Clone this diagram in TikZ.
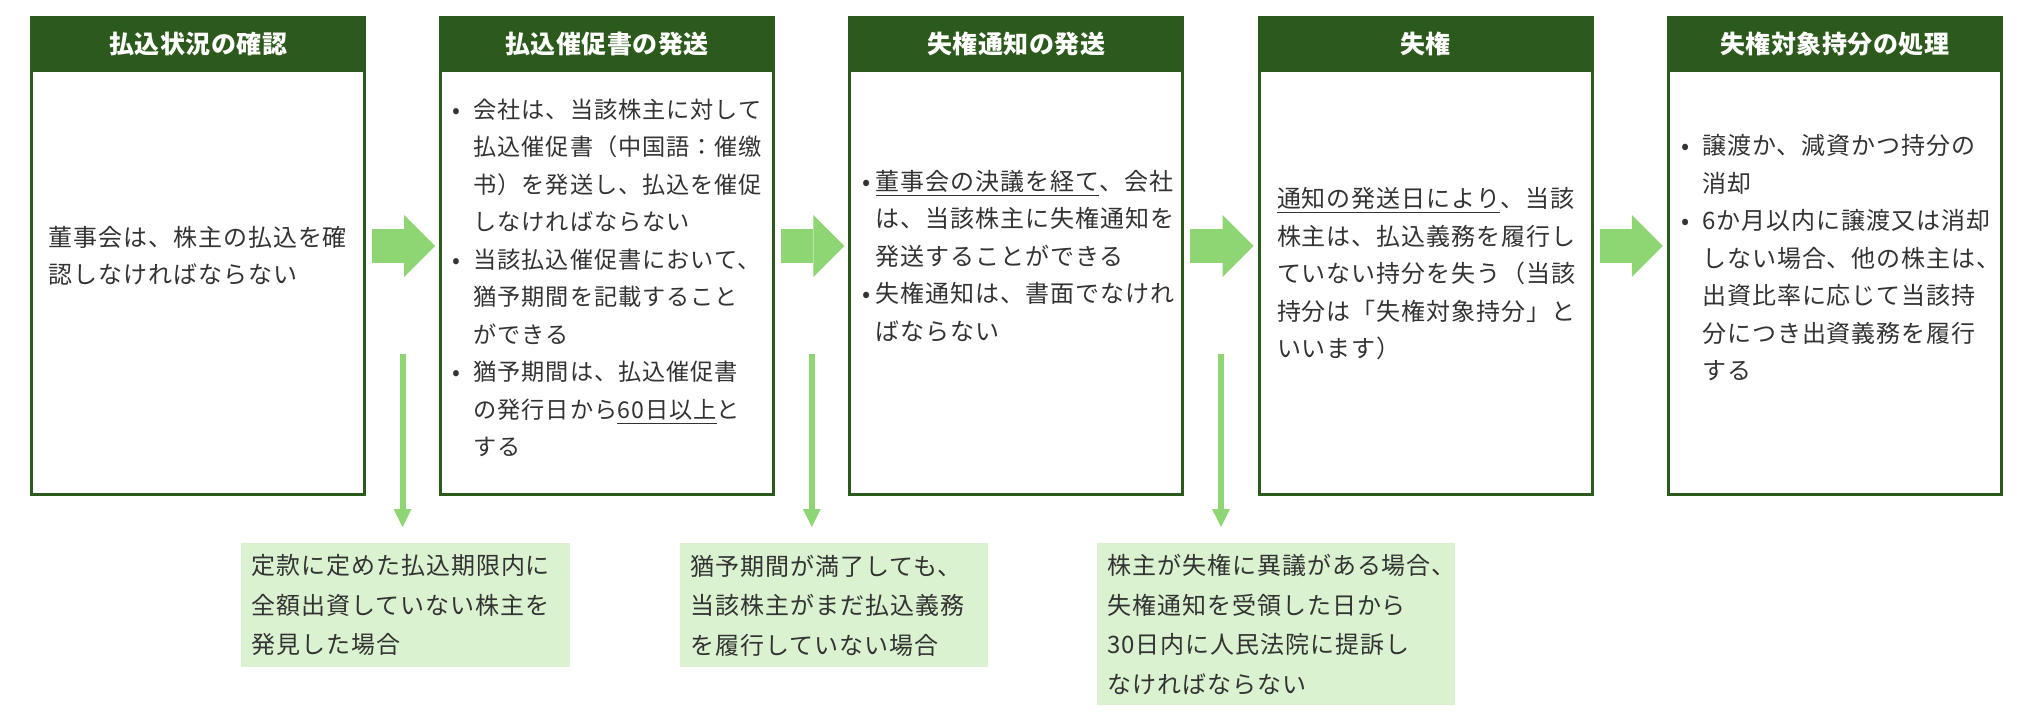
\documentclass[tikz,border=0pt]{standalone}
\usepackage{fontspec}
\setmainfont{Noto Sans CJK JP}[LetterSpace=4]
\newfontfamily\headfont{Noto Sans CJK JP}[LetterSpace=2]
\usepackage{tikz}
\usetikzlibrary{arrows.meta,positioning,calc}

\definecolor{darkleaf}{HTML}{2C5A1C}
\definecolor{arrowleaf}{HTML}{8DD673}
\definecolor{noteleaf}{HTML}{DAF2D0}

\newcommand{\bul}[1][10.5pt]{\makebox[#1][l]{•}}
\newcommand{\ind}[1][10.5pt]{\hspace*{#1}}

\begin{document}
\begin{tikzpicture}[
  x=0.5pt, y=-0.5pt,
  stagebox/.style={
    draw=darkleaf,
    line width=1.5pt,
    minimum width=166.5pt,
    minimum height=238.5pt,
    inner sep=0pt
  },
  stagehead/.style={
    fill=darkleaf,
    text=white,
    font=\headfont\bfseries\fontsize{12.5}{15}\selectfont,
    minimum width=168pt,
    minimum height=28pt,
    inner sep=0pt,
    outer sep=0pt,
    anchor=north
  },
  stagetext/.style={anchor=west, inner sep=0pt, text width=160pt, align=left, text=black!80, font=\fontsize{12}{18.75}\selectfont},
  notebox/.style={fill=noteleaf, anchor=north west, inner xsep=5pt, inner ysep=0pt, align=left, text=black!80, font=\fontsize{12}{19.75}\selectfont},
  flow/.style={-{Triangle[length=15.5pt, width=31pt, line width=0pt]}, line width=17pt, draw=arrowleaf, shorten <=3pt, shorten >=2pt},
  drop/.style={-{Triangle[length=9pt, width=9pt, line width=0pt]}, line width=3pt, draw=arrowleaf, shorten >=8pt}
]
  \useasboundingbox (0,0) rectangle (2040,720);

  % stages
  \node[stagebox, anchor=north west] (chk) at (30,16) {};
  \node[stagebox, right=36.6pt of chk] (urge) {};
  \node[stagebox, right=36.6pt of urge] (notice) {};
  \node[stagebox, right=36.6pt of notice] (forfeit) {};
  \node[stagebox, right=36.6pt of forfeit] (dispose) {};

  \node[stagehead] (chkhd) at (chk.north) {払込状況の確認};
  \node[stagehead] (urgehd) at (urge.north) {払込催促書の発送};
  \node[stagehead] (noticehd) at (notice.north) {失権通知の発送};
  \node[stagehead] (forfeithd) at (forfeit.north) {失権};
  \node[stagehead] (disposehd) at (dispose.north) {失権対象持分の処理};

  \node[stagetext] (chktxt) at ([xshift=9pt]chk.west) {董事会は、株主の払込を確\\
    認しなければならない};
  \node[stagetext, font=\fontsize{11.6}{18.75}\selectfont] (urgetxt) at ([xshift=6.5pt,yshift=-11pt]urge.west) {\bul 会社は、当該株主に対して\\
    \ind 払込催促書（中国語：催缴\\
    \ind 书）を発送し、払込を催促\\
    \ind しなければならない\\
    \bul 当該払込催促書において、\\
    \ind 猶予期間を記載すること\\
    \ind ができる\\
    \bul 猶予期間は、払込催促書\\
    \ind の発行日から\underline{60日以上}と\\
    \ind する};
  \node[stagetext] (noticetxt) at ([xshift=7pt]notice.west) {\bul[6.5pt]\underline{董事会の決議を経て}、会社\\
    \ind[6.5pt]は、当該株主に失権通知を\\
    \ind[6.5pt]発送することができる\\
    \bul[6.5pt]失権通知は、書面でなけれ\\
    \ind[6.5pt]ばならない};
  \node[stagetext] (forfeittxt) at ([xshift=9.5pt,yshift=-9pt]forfeit.west) {\underline{通知の発送日により}、当該\\
    株主は、払込義務を履行し\\
    ていない持分を失う（当該\\
    持分は「失権対象持分」と\\
    いいます）};
  \node[stagetext] (disposetxt) at ([xshift=7pt,yshift=-1pt]dispose.west) {\bul 譲渡か、減資かつ持分の\\
    \ind 消却\\
    \bul 6か月以内に譲渡又は消却\\
    \ind しない場合、他の株主は、\\
    \ind 出資比率に応じて当該持\\
    \ind 分につき出資義務を履行\\
    \ind する};

  % notes
  \node[notebox, minimum width=164.5pt, minimum height=62pt, text width=154.5pt] (noteA) at (241,543) {定款に定めた払込期限内に\\
    全額出資していない株主を\\
    発見した場合};
  \node[notebox, minimum width=154pt, minimum height=62pt, text width=144pt] (noteB) at (680,543) {猶予期間が満了しても、\\
    当該株主がまだ払込義務\\
    を履行していない場合};
  \node[notebox, minimum width=179pt, minimum height=81pt, text width=169pt] (noteC) at (1097,543) {株主が失権に異議がある場合、\\
    失権通知を受領した日から\\
    30日内に人民法院に提訴し\\
    なければならない};

  \draw[flow] ([yshift=5pt]chk.east) -- ([yshift=5pt]urge.west);
  \draw[flow] ([yshift=5pt]urge.east) -- ([yshift=5pt]notice.west);
  \draw[flow] ([yshift=5pt]notice.east) -- ([yshift=5pt]forfeit.west);
  \draw[flow] ([yshift=5pt]forfeit.east) -- ([yshift=5pt]dispose.west);

  \path ($(chk.east)!0.5!(urge.west)$) ++(0,98) coordinate (dropA);
  \path ($(urge.east)!0.5!(notice.west)$) ++(0,98) coordinate (dropB);
  \path ($(notice.east)!0.5!(forfeit.west)$) ++(0,98) coordinate (dropC);
  \draw[drop] (dropA) -- (dropA |- noteA.north);
  \draw[drop] (dropB) -- (dropB |- noteB.north);
  \draw[drop] (dropC) -- (dropC |- noteC.north);
\end{tikzpicture}
\end{document}
